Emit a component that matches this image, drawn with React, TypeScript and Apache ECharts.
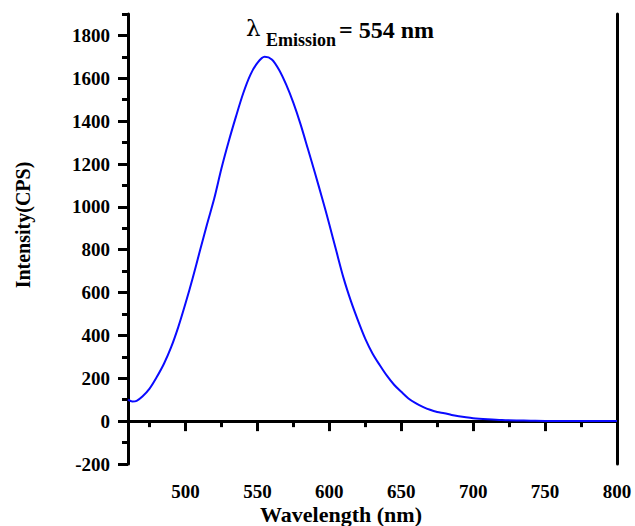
import React, { useEffect, useRef } from "react";
import * as echarts from "echarts";

const wavelengths = [460,463,466,470,475,480,485,490,495,500,505,510,515,520,525,530,535,540,545,550,555,560,565,570,575,580,585,590,595,600,605,610,615,620,625,630,635,640,645,650,655,660,665,670,675,680,685,690,695,700,710,720,730,740,750,775,800];
const intensity = [100,92,95,115,152,206,268,345,440,550,668,795,920,1040,1180,1305,1420,1528,1615,1672,1700,1688,1640,1570,1485,1385,1272,1158,1040,918,790,665,560,468,384,316,262,212,170,137,106,84,67,53,43,37,29,23,18,14,9,5,3,2,1,1,1];

const xMajorTicks = [500, 550, 600, 650, 700, 750, 800];
const xMinorTicks = [475, 525, 575, 625, 675, 725, 775];
const yMajorTicks = [-200, 0, 200, 400, 600, 800, 1000, 1200, 1400, 1600, 1800];
const yMinorTicks = [-100, 100, 300, 500, 700, 900, 1100, 1300, 1500, 1700, 1900];

const FONT = "'Liberation Serif', 'Times New Roman', serif";

export default function App() {
  const ref = useRef<HTMLDivElement>(null);
  useEffect(() => {
    if (!ref.current) return;
    const chart = echarts.init(ref.current, undefined, { renderer: "svg" });
    const line = { lineStyle: { color: "#000", width: 3 } };
    const xBase = { type: "value", min: 460, max: 800, gridIndex: 0, splitLine: { show: false } };
    const yBase = { type: "value", min: -200, max: 1900, gridIndex: 0, splitLine: { show: false } };
    const labelStyle = {
      color: "#000", fontFamily: FONT, fontWeight: "bold", fontSize: 19,
      formatter: (v: number) => String(v),
    };
    chart.setOption({
      animation: false,
      backgroundColor: "#fff",
      grid: { left: 128, right: 18, top: 14, bottom: 62, containLabel: false },
      xAxis: [
        {
          ...xBase, position: "bottom",
          axisLine: { show: true, ...line },
          axisTick: { show: true, inside: false, length: 10, customValues: xMajorTicks, ...line },
          axisLabel: { show: true, margin: 20, lineHeight: 14, customValues: xMajorTicks, ...labelStyle },
        },
        {
          ...xBase, position: "bottom",
          axisLine: { show: false },
          axisTick: { show: true, inside: false, length: 6, customValues: xMinorTicks, ...line },
          axisLabel: { show: false },
        },
        {
          ...xBase, position: "top",
          axisLine: { show: true, ...line },
          axisTick: { show: false },
          axisLabel: { show: false },
        },
      ],
      yAxis: [
        {
          ...yBase, position: "left",
          axisLine: { show: true, ...line },
          axisTick: { show: true, inside: false, length: 10, customValues: yMajorTicks, ...line },
          axisLabel: { show: true, margin: 18, customValues: yMajorTicks, ...labelStyle },
        },
        {
          ...yBase, position: "left",
          axisLine: { show: false },
          axisTick: { show: true, inside: false, length: 6, customValues: yMinorTicks, ...line },
          axisLabel: { show: false },
        },
        {
          ...yBase, position: "right",
          axisLine: { show: true, ...line },
          axisTick: { show: false },
          axisLabel: { show: false },
        },
      ],
      series: [
        {
          type: "line",
          xAxisIndex: 0,
          yAxisIndex: 0,
          data: wavelengths.map((w, i) => [w, intensity[i]]),
          smooth: 0.3,
          showSymbol: false,
          lineStyle: { color: "#0a0aff", width: 2 },
          z: 1,
        },
      ],
      graphic: [
        { type: "text", x: 246, y: 39, style: { text: "λ", font: `23px 'DejaVu Serif', serif`, fill: "#000", verticalAlign: "bottom" } },
        { type: "text", x: 266, y: 49, style: { text: "Emission", font: `bold 18px ${FONT}`, fill: "#000", verticalAlign: "bottom" } },
        { type: "text", x: 339, y: 42, style: { text: "= 554 nm", font: `bold 24px ${FONT}`, fill: "#000", verticalAlign: "bottom" } },
        { type: "text", x: 341, y: 514, style: { text: "Wavelength (nm)", font: `bold 22px ${FONT}`, lineHeight: 18, fill: "#000", align: "center", verticalAlign: "middle" } },
        { type: "text", x: 23, y: 225, rotation: Math.PI / 2, style: { text: "Intensity(CPS)", font: `bold 20px ${FONT}`, fill: "#000", align: "center", verticalAlign: "middle" } },
      ],
    });
    return () => chart.dispose();
  }, []);
  return <div ref={ref} style={{ position: "fixed", left: 0, top: 0, width: 635, height: 526 }} />;
}
